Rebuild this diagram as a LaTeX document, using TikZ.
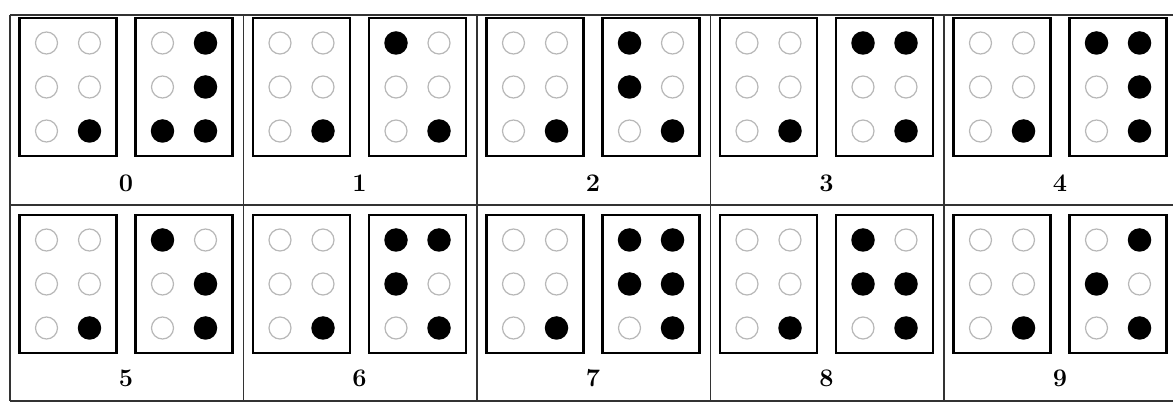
\documentclass[tikz,border=0pt]{standalone}
\usetikzlibrary{positioning,calc}
\begin{document}
\begin{tikzpicture}[x=0.02cm,y=0.02cm,
  cellbox/.style={draw=black,line width=1.3pt,minimum width=1.94cm,minimum height=2.76cm,inner sep=0pt},
  dot0/.style={circle,draw=black!28,line width=0.7pt,minimum size=0.44cm,inner sep=0pt},
  dot1/.style={circle,fill=black,minimum size=0.47cm,inner sep=0pt},
  rule/.style={draw=black!80,line width=0.9pt},
  digit/.style={font=\bfseries\Large,inner sep=0pt}]
\useasboundingbox (0,0) rectangle (1173,405);
% table frame
\draw[rule] (10,390) -- (1173,390) (10,200) -- (1173,200) (10,4) -- (1173,4) (10,390) -- (10,4);
\foreach \c in {1,...,4} \draw[rule,line width=0.6pt] ({10+233.5*\c},390) -- ({10+233.5*\c},4);
% cells: number sign + digit
\foreach \d/\pat in {0/{0,1,0,1,1,1},1/{1,0,0,0,0,1},2/{1,0,1,0,0,1},3/{1,1,0,0,0,1},4/{1,1,0,1,0,1},
  5/{1,0,0,1,0,1},6/{1,1,1,0,0,1},7/{1,1,1,1,0,1},8/{1,0,1,1,0,1},9/{0,1,1,0,0,1}} {
  \pgfmathsetmacro\cx{10+233.5*mod(\d,5)}
  \pgfmathsetmacro\cy{\d<5 ? 318 : 121}
  \pgfmathsetmacro\ly{\d<5 ? 222 : 27}
  \node[cellbox] (sign\d) at (\cx+58,\cy) {};
  \node[cellbox] (num\d) at (\cx+174,\cy) {};
  \node[digit] (lab\d) at (\cx+116,\ly) {\d};
  \foreach \v [count=\k from 0] in {0,0,0,0,0,1} {
    \pgfmathsetmacro\dx{mod(\k,2)==0 ? -21.5 : 21.5}
    \pgfmathsetmacro\dy{44-44*int(\k/2)}
    \node[dot\v] (s\d-\k) at ($(sign\d)+(\dx,\dy)$) {};
  }
  \foreach \v [count=\k from 0] in \pat {
    \pgfmathsetmacro\dx{mod(\k,2)==0 ? -21.5 : 21.5}
    \pgfmathsetmacro\dy{44-44*int(\k/2)}
    \node[dot\v] (n\d-\k) at ($(num\d)+(\dx,\dy)$) {};
  }
}
\end{tikzpicture}
\end{document}
